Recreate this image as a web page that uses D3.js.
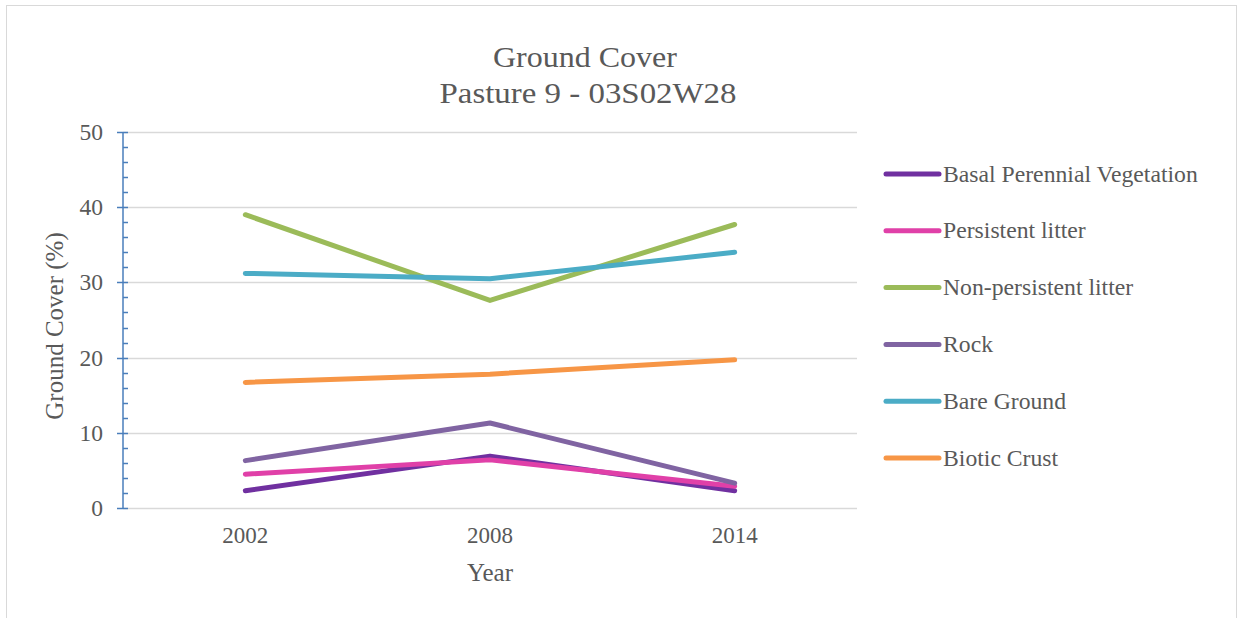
<!DOCTYPE html>
<html>
<head>
<meta charset="utf-8">
<script src="https://cdn.jsdelivr.net/npm/d3@7"></script>
<style>
  html, body { margin: 0; padding: 0; background: #fff; }
  svg { display: block; }
  text { font-family: "Liberation Serif", "Times New Roman", serif; fill: #595959; }
</style>
</head>
<body>
<svg id="chart" width="1244" height="618"></svg>
<script>
// Ground cover survey data
const years = ["2002", "2008", "2014"];
const seriesNames = ["Basal Perennial Vegetation", "Persistent litter", "Non-persistent litter", "Rock", "Bare Ground", "Biotic Crust"];
const basal = [2.3, 6.9, 2.3];
const persistent = [4.5, 6.4, 2.9];
const nonPersistent = [39.0, 27.6, 37.7];
const rock = [6.3, 11.3, 3.3];
const bareGround = [31.2, 30.5, 34.0];
const bioticCrust = [16.7, 17.8, 19.7];
const yTicks = [0, 10, 20, 30, 40, 50];
const colors = ["#7030a0", "#e040a8", "#9bbb59", "#8064a2", "#4bacc6", "#f79646"];

const seriesValues = [basal, persistent, nonPersistent, rock, bareGround, bioticCrust];
const series = seriesNames.map((name, i) => ({ name, color: colors[i], values: seriesValues[i] }));

const svg = d3.select("#chart");

// chart area border
svg.append("rect")
  .attr("x", 6.5).attr("y", 5.5).attr("width", 1230).attr("height", 630)
  .attr("fill", "none").attr("stroke", "#d9d9d9").attr("stroke-width", 1);

const plot = { left: 123, right: 857, top: 132, bottom: 508 };

const x = d3.scaleBand().domain(years).range([plot.left, plot.right]);
const y = d3.scaleLinear().domain([0, 50]).range([plot.bottom, plot.top]);

// title
svg.append("text").attr("x", 585).attr("y", 67).attr("text-anchor", "middle")
  .style("font-size", "29px").attr("textLength", 184).attr("lengthAdjust", "spacingAndGlyphs")
  .text("Ground Cover");
svg.append("text").attr("x", 588).attr("y", 103).attr("text-anchor", "middle")
  .style("font-size", "29px").attr("textLength", 297).attr("lengthAdjust", "spacingAndGlyphs")
  .text("Pasture 9 - 03S02W28");

// horizontal gridlines
svg.append("g")
  .selectAll("line").data(yTicks).join("line")
  .attr("x1", plot.left).attr("x2", plot.right)
  .attr("y1", d => Math.round(y(d)) + 0.5).attr("y2", d => Math.round(y(d)) + 0.5)
  .attr("stroke", "#d9d9d9").attr("stroke-width", 1.5);

// y axis: major ticks crossing the line, minor ticks inside
const axisColor = "#4a7ebb";
const yAxis = svg.append("g");
yAxis.append("line")
  .attr("x1", plot.left).attr("x2", plot.left)
  .attr("y1", y(50)).attr("y2", y(0))
  .attr("stroke", axisColor).attr("stroke-width", 1.5);
yAxis.selectAll(".major").data(yTicks).join("line").attr("class", "major")
  .attr("x1", plot.left - 6).attr("x2", plot.left + 5)
  .attr("y1", d => Math.round(y(d)) + 0.5).attr("y2", d => Math.round(y(d)) + 0.5)
  .attr("stroke", axisColor).attr("stroke-width", 1.5);
yAxis.selectAll(".minor").data(d3.range(0, 50, 2).filter(v => v % 10 !== 0)).join("line").attr("class", "minor")
  .attr("x1", plot.left).attr("x2", plot.left + 5)
  .attr("y1", d => Math.round(y(d)) + 0.5).attr("y2", d => Math.round(y(d)) + 0.5)
  .attr("stroke", axisColor).attr("stroke-width", 1.5);
yAxis.selectAll(".lab").data(yTicks).join("text").attr("class", "lab")
  .attr("x", 103).attr("y", d => y(d) + 8)
  .attr("text-anchor", "end").style("font-size", "23.5px")
  .text(d => d);

// x labels
svg.append("g").selectAll("text").data(years).join("text")
  .attr("x", d => x(d) + x.bandwidth() / 2).attr("y", 543)
  .attr("text-anchor", "middle").style("font-size", "23px").text(d => d);

// axis titles
svg.append("text").attr("x", 490).attr("y", 581).attr("text-anchor", "middle")
  .style("font-size", "25px").text("Year");
svg.append("text").attr("transform", "translate(63,326) rotate(-90)")
  .attr("text-anchor", "middle").style("font-size", "25px").text("Ground Cover (%)");

// series lines
const line = d3.line()
  .x((d, i) => x(years[i]) + x.bandwidth() / 2)
  .y(d => y(d));

svg.append("g").selectAll("path").data(series).join("path")
  .attr("d", d => line(d.values))
  .attr("fill", "none")
  .attr("stroke", d => d.color)
  .attr("stroke-width", 5)
  .attr("stroke-linecap", "round")
  .attr("stroke-linejoin", "round");

// legend
const legend = svg.append("g").selectAll("g").data(series).join("g")
  .attr("transform", (d, i) => `translate(0,${174 + i * 56.8})`);
legend.append("line")
  .attr("x1", 886).attr("x2", 939).attr("y1", 0).attr("y2", 0)
  .attr("stroke", d => d.color).attr("stroke-width", 5).attr("stroke-linecap", "round");
legend.append("text")
  .attr("x", 943).attr("y", 7.5).style("font-size", "23.7px")
  .text(d => d.name);
</script>
</body>
</html>
